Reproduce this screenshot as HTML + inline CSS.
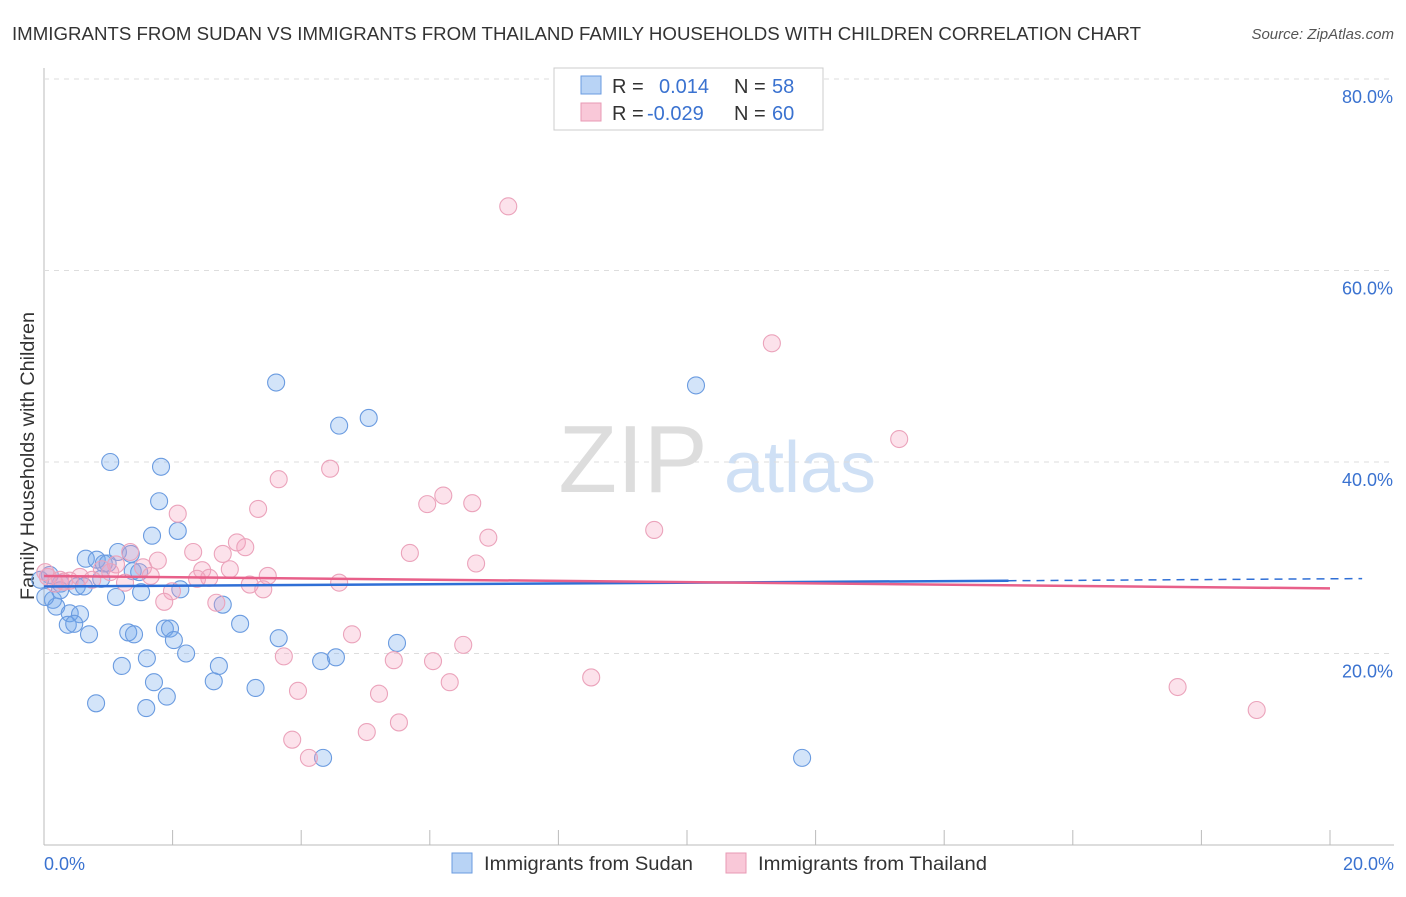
<!DOCTYPE html>
<html><head><meta charset="utf-8"><style>
body{margin:0;background:#fff;font-family:"Liberation Sans",sans-serif}
svg text{font-family:"Liberation Sans",sans-serif}
</style></head><body>
<svg id="c" width="1406" height="892">
<text x="12" y="40" font-size="18" fill="#333" textLength="1129" lengthAdjust="spacingAndGlyphs">IMMIGRANTS FROM SUDAN VS IMMIGRANTS FROM THAILAND FAMILY HOUSEHOLDS WITH CHILDREN CORRELATION CHART</text>
<text x="1394" y="39" font-size="15" fill="#555" text-anchor="end" font-style="italic">Source: ZipAtlas.com</text>
<text x="633" y="492" font-size="96" fill="#ddd" font-family="Liberation Serif" text-anchor="middle">ZIP</text>
<text x="800" y="492" font-size="72" fill="#cfe0f5" text-anchor="middle">atlas</text>
<text transform="translate(34,456) rotate(-90)" font-size="19" fill="#333" text-anchor="middle" textLength="288" lengthAdjust="spacingAndGlyphs">Family Households with Children</text>
<g id="grid"></g><g id="pts"></g><g id="lines"></g>
<rect x="554" y="68" width="269" height="62" fill="#fff" stroke="#ccc"/>
<rect x="581" y="76" width="20" height="18" fill="#b8d3f5" stroke="#6a9be0"/>
<rect x="581" y="103" width="20" height="18" fill="#f9c8d8" stroke="#e89ab4"/>
<text x="612" y="93" font-size="20" fill="#333">R = <tspan fill="#3a72d0" x="659">0.014</tspan><tspan fill="#333" x="734">N =</tspan><tspan fill="#3a72d0" x="772">58</tspan></text>
<text x="612" y="120" font-size="20" fill="#333">R = <tspan fill="#3a72d0" x="647">-0.029</tspan><tspan fill="#333" x="734">N =</tspan><tspan fill="#3a72d0" x="772">60</tspan></text>
<rect x="452" y="853" width="20" height="20" fill="#b8d3f5" stroke="#6a9be0"/>
<text x="484" y="870" font-size="19" fill="#333" textLength="209" lengthAdjust="spacingAndGlyphs">Immigrants from Sudan</text>
<rect x="726" y="853" width="20" height="20" fill="#f9c8d8" stroke="#e89ab4"/>
<text x="758" y="870" font-size="19" fill="#333" textLength="229" lengthAdjust="spacingAndGlyphs">Immigrants from Thailand</text>
<text x="44" y="870" font-size="18" fill="#3a72d0">0.0%</text>
<text x="1394" y="870" font-size="18" fill="#3a72d0" text-anchor="end">20.0%</text>
</svg>
<script>
const yTicks=[20,40,60,80];
const sudanX=[1.03,1.82,3.61,4.59,5.05,10.14,1.79,1.68,2.08,1.15,1.35,0.65,0.82,0.93,1.38,1.48,0.26,0.51,0.62,0.89,1.12,1.51,2.12,2.78,0.14,0.19,0.40,0.56,0.37,0.47,0.70,1.31,1.40,1.88,1.96,3.05,3.65,5.49,2.02,2.21,1.60,1.21,2.72,2.64,1.71,4.31,4.54,3.29,1.91,0.81,1.59,4.34,11.79,0.02,0.09,0.25,-0.06,0.99];
const sudanY=[40.0,39.5,48.3,43.8,44.6,48.0,35.9,32.3,32.8,30.6,30.4,29.9,29.8,29.4,28.6,28.5,27.3,27.0,27.0,27.8,25.9,26.4,26.7,25.1,25.6,24.9,24.2,24.1,23.0,23.1,22.0,22.2,22.0,22.6,22.6,23.1,21.6,21.1,21.4,20.0,19.5,18.7,18.7,17.1,17.0,19.2,19.6,16.4,15.5,14.8,14.3,9.1,9.1,25.9,28.2,26.6,27.7,29.4];
const thaiX=[7.22,11.32,13.30,4.45,3.65,6.21,5.96,6.66,3.33,2.08,6.91,9.49,3.00,3.13,2.78,2.32,1.34,5.69,1.77,6.72,1.12,1.54,2.46,2.89,0.90,3.48,2.57,1.66,2.38,1.26,0.75,0.25,0.40,0.56,3.20,3.41,4.59,1.99,2.68,1.87,3.73,4.79,6.52,5.44,6.05,6.31,3.95,8.51,5.21,17.63,18.86,5.52,5.02,3.86,4.12,0.06,0.17,0.31,0.02,1.03];
const thaiY=[66.7,52.4,42.4,39.3,38.2,36.5,35.6,35.7,35.1,34.6,32.1,32.9,31.6,31.1,30.4,30.6,30.6,30.5,29.7,29.4,29.3,29.0,28.7,28.8,28.8,28.1,27.9,28.1,27.8,27.4,27.7,27.7,27.6,28.0,27.2,26.7,27.4,26.5,25.3,25.4,19.7,22.0,20.9,19.3,19.2,17.0,16.1,17.5,15.8,16.5,14.1,12.8,11.8,11.0,9.1,28.0,27.3,27.5,28.5,28.5];
const sudanTrend=[27.0,27.6];
const thaiTrend=[28.1,26.8];
const X=v=>44+v*64.3, Y=v=>845-v*9.575;
const NS='http://www.w3.org/2000/svg';
function mk(t,a,p){const e=document.createElementNS(NS,t);for(const k in a)e.setAttribute(k,a[k]);p.appendChild(e);return e;}
const g=document.getElementById('grid');
const ax=mk('line',{x1:44,y1:68,x2:44,y2:845,stroke:'#bbb'},g);


const bx=mk('line',{x1:44,y1:845,x2:1394,y2:845,stroke:'#bbb'},g);


for(let i=1;i<=10;i++){const t=mk('line',{x1:X(i*2),y1:830,x2:X(i*2),y2:845,stroke:'#bbb'},g);

}
yTicks.forEach(v=>{const l=mk('line',{x1:44,y1:Y(v),x2:1394,y2:Y(v),stroke:'#ddd','stroke-dasharray':'5,5'},g);


const t=mk('text',{x:1393,y:Y(v)+24,'font-size':18,fill:'#3a72d0','text-anchor':'end'},g);
t.textContent=v.toFixed(1)+'%';

});
const p=document.getElementById('pts');
sudanX.forEach((v,i)=>{const c=mk('circle',{cx:X(v),cy:Y(sudanY[i]),r:8.5,fill:'rgba(110,165,235,0.3)',stroke:'#6a9be0','stroke-width':1.1},p);

});
thaiX.forEach((v,i)=>{const c=mk('circle',{cx:X(v),cy:Y(thaiY[i]),r:8.5,fill:'rgba(245,160,190,0.3)',stroke:'#eba3bb','stroke-width':1.1},p);

});
const L=document.getElementById('lines');
const sAt=x=>sudanTrend[0]+(sudanTrend[1]-sudanTrend[0])*x/15;
const s1=mk('line',{x1:X(0),y1:Y(sAt(0)),x2:X(15),y2:Y(sAt(15)),stroke:'#2f6fd6','stroke-width':2.5},L);


const s2=mk('line',{x1:X(15),y1:Y(sAt(15)),x2:X(20.5),y2:Y(sAt(20.5)),stroke:'#2f6fd6','stroke-width':1.5,'stroke-dasharray':'8,6'},L);


const t1=mk('line',{x1:X(0),y1:Y(thaiTrend[0]),x2:X(20),y2:Y(thaiTrend[1]),stroke:'#e8608a','stroke-width':2.5},L);


</script>
</body></html>
